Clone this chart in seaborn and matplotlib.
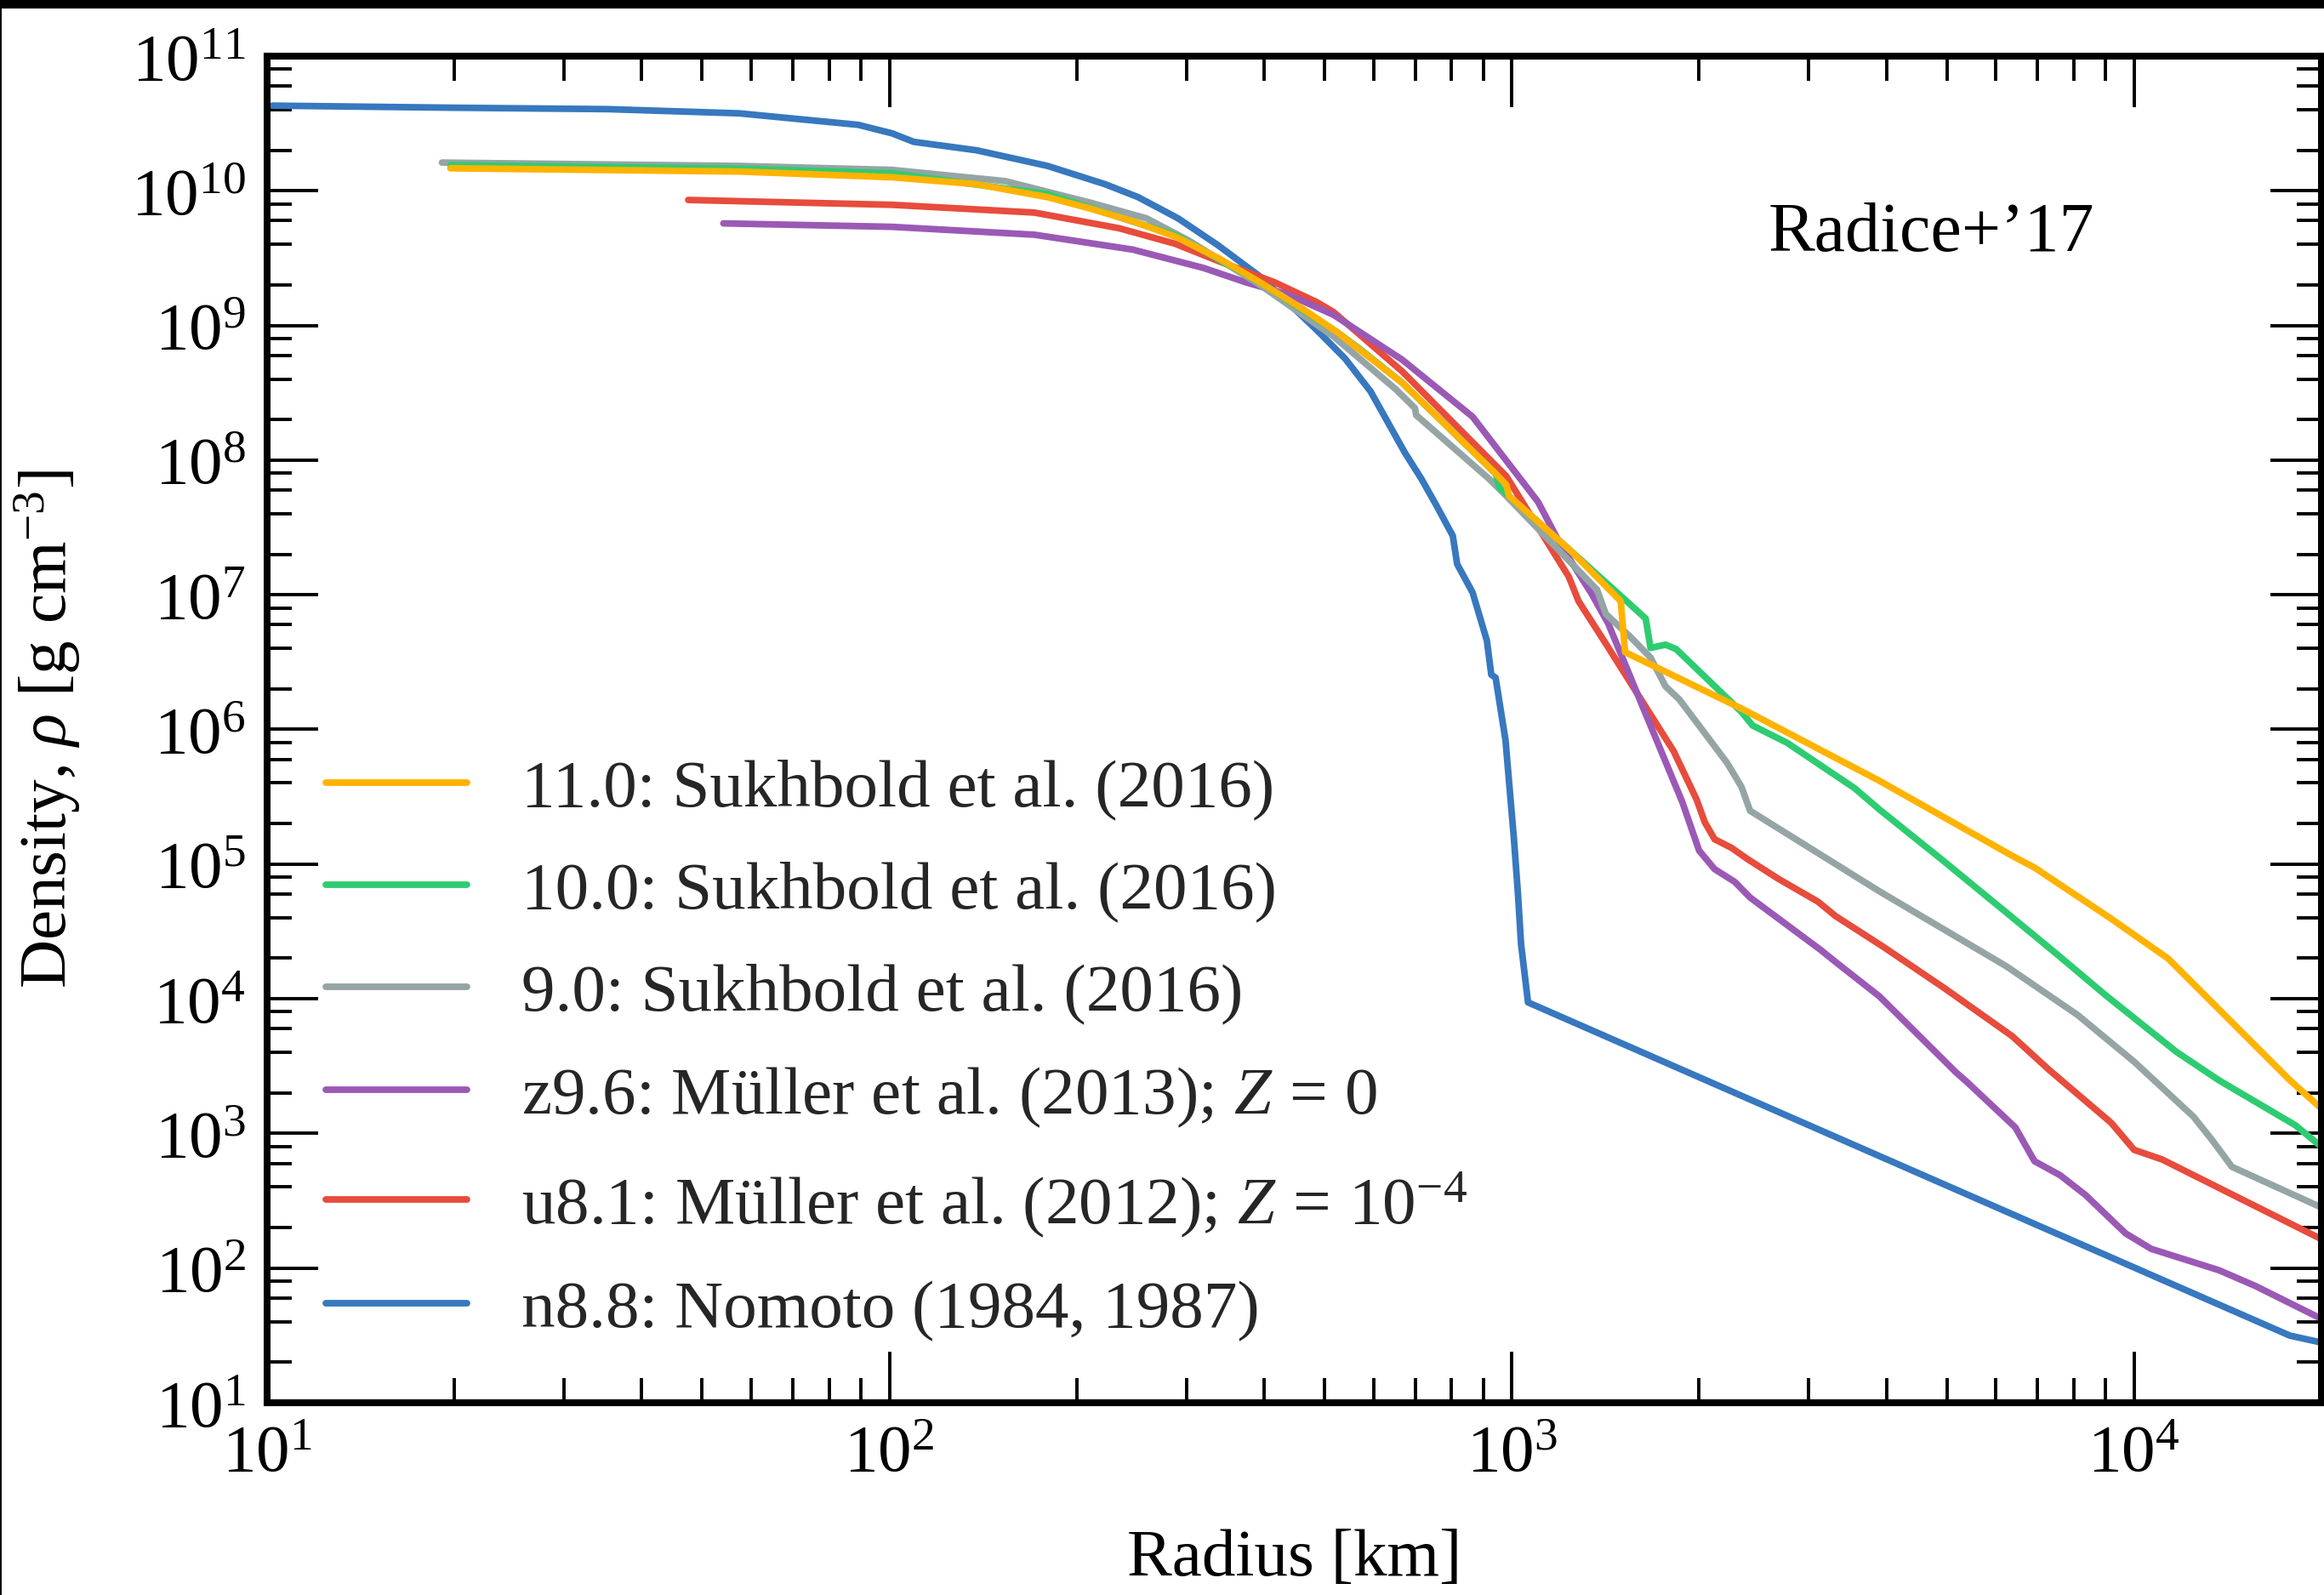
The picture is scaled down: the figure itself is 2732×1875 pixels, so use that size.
import numpy as np
import pandas as pd
import matplotlib
matplotlib.use("Agg")
import matplotlib.pyplot as plt
from matplotlib.lines import Line2D
from matplotlib.patches import Rectangle
from matplotlib.ticker import LogLocator, NullFormatter
import seaborn as sns

# ---------------- data (radius in km, density in g cm^-3) ----------------
n88_r = [10.2, 19.9, 35.3, 57.4, 89.1, 101, 109.4, 138, 179.5, 222, 251, 291, 337, 394,
         438, 486, 540, 593, 673, 716, 755, 804, 817, 865, 912, 927, 942, 977, 1008,
         1023, 1035, 1062, 17800, 20000]
n88_rho = [4.29e10, 4.14e10, 4.04e10, 3.76e10, 3.09e10, 2.67e10, 2.31e10, 2.00e10, 1.53e10,
           1.12e10, 8.97e9, 6.24e9, 3.95e9, 2.31e9, 1.46e9, 9.25e8, 5.66e8, 3.24e8, 1.14e8,
           7.24e7, 4.69e7, 2.74e7, 1.69e7, 1.04e7, 4.57e6, 2.55e6, 2.42e6, 8.34e5, 1.54e5,
           6.08e4, 2.54e4, 9.40e3, 31.5, 28.0]

u81_r = [47.5, 101, 171, 234, 288, 337, 416, 486, 517, 667, 980, 1235, 1280, 1416, 1820,
         1982, 2043, 2118, 2255, 2392, 2681, 3105, 3311, 3954, 4955, 6368, 7310, 9186,
         10000, 11090, 20000]
u81_rho = [8.55e9, 7.87e9, 6.89e9, 5.27e9, 4.04e9, 3.02e9, 2.09e9, 1.49e9, 1.26e9, 4.55e8,
           7.59e7, 1.36e7, 8.98e6, 4.34e6, 6.90e5, 3.01e5, 2.04e5, 1.53e5, 1.32e5, 1.09e5,
           7.78e4, 5.26e4, 4.12e4, 2.43e4, 1.20e4, 5.28e3, 2.95e3, 1.20e3, 755, 641, 164]

z96_r = [54.1, 101, 171, 246, 320, 374, 438, 517, 667, 865, 1102, 1197, 1343, 1429, 1607,
         1880, 2000, 2118, 2282, 2415, 3134, 3327, 3899, 5166, 5383, 6442, 6918, 7607,
         8360, 9690, 10650, 13690, 15670, 20000]
z96_rho = [5.73e9, 5.40e9, 4.72e9, 3.66e9, 2.67e9, 2.09e9, 1.69e9, 1.20e9, 5.56e8, 2.10e8,
           4.90e7, 2.37e7, 1.02e7, 6.11e6, 1.65e6, 2.88e5, 1.26e5, 9.18e4, 7.38e4, 5.65e4,
           2.31e4, 1.85e4, 1.04e4, 2.86e3, 2.42e3, 1.11e3, 622, 489, 348, 181, 139, 96.4,
           73.6, 42.0]

s90_r = [19.1, 57.4, 101, 153.5, 210, 259, 303, 394, 517, 652, 699, 702, 920, 980, 1371,
         1416, 1553, 1671, 1766, 1859, 2218, 2339, 2415, 3899, 6237, 8110, 10000, 12460,
         13340, 14360, 20000]
s90_rho = [1.62e10, 1.53e10, 1.43e10, 1.18e10, 8.18e9, 6.24e9, 4.26e9, 2.00e9, 8.30e8,
           3.34e8, 2.43e8, 2.16e8, 7.24e7, 5.42e7, 1.09e7, 7.21e6, 4.84e6, 3.42e6, 2.09e6,
           1.67e6, 5.65e5, 3.75e5, 2.49e5, 6.27e4, 1.74e4, 7.59e3, 3.41e3, 1.33e3, 895, 565,
           282]

s100_r = [19.7, 57.4, 101, 179.5, 288, 394, 523, 569, 667, 942, 955, 1247, 1476, 1641, 1671,
          1766, 1837, 2339, 2437, 2767, 3556, 3899, 4898, 6237, 7464, 9006, 11700, 13690,
          18160, 20000]
s100_rho = [1.55e10, 1.46e10, 1.35e10, 9.44e9, 4.68e9, 2.09e9, 8.98e8, 6.73e8, 3.75e8,
            7.94e7, 6.27e7, 2.10e7, 1.04e7, 6.67e6, 4.03e6, 4.26e6, 3.95e6, 1.35e6, 1.07e6,
            7.98e5, 3.66e5, 2.54e5, 1.09e5, 4.36e4, 2.20e4, 1.06e4, 4.03e3, 2.48e3, 1.15e3,
            796]

s110_r = [19.7, 57.4, 101, 138, 179.5, 210, 246, 288, 337, 394, 461, 523, 667, 942, 980,
          990, 1247, 1496, 1521, 2339, 3899, 6397, 6918, 9186, 11340, 17800, 20000]
s110_rho = [1.47e10, 1.39e10, 1.26e10, 1.12e10, 8.97e9, 7.39e9, 5.94e9, 4.57e9, 3.18e9,
            2.09e9, 1.33e9, 8.98e8, 3.75e8, 7.94e7, 6.55e7, 5.42e7, 2.10e7, 8.98e6, 3.75e6,
            1.43e6, 4.15e5, 1.14e5, 9.42e4, 3.93e4, 1.99e4, 2.48e3, 1.53e3]

labels = [
    "11.0: Sukhbold et al. (2016)",
    "10.0: Sukhbold et al. (2016)",
    "9.0: Sukhbold et al. (2016)",
    r"z9.6: Müller et al. (2013); $Z\, =\, 0$",
    r"u8.1: Müller et al. (2012); $Z\, =\, 10^{-4}$",
    "n8.8: Nomoto (1984, 1987)",
]
colors = ["#FFB300", "#2ECC71", "#95A5A6", "#9B59B6", "#E74C3C", "#3778BF"]
series = [(s110_r, s110_rho), (s100_r, s100_rho), (s90_r, s90_rho),
          (z96_r, z96_rho), (u81_r, u81_rho), (n88_r, n88_rho)]

# ---------------- style ----------------
sns.set_theme(style="ticks", context="notebook")
plt.rcParams["font.family"] = ["Liberation Serif", "DejaVu Serif"]
plt.rcParams["mathtext.fontset"] = "custom"
plt.rcParams["mathtext.rm"] = "Liberation Serif"
plt.rcParams["mathtext.it"] = "Liberation Serif:italic"
plt.rcParams["mathtext.bf"] = "Liberation Serif:bold"
plt.rcParams["axes.unicode_minus"] = True

FS = 28.5
LW = 2.8

fig = plt.figure(figsize=(13.66, 9.375), dpi=200)
ax = fig.add_axes([314 / 2732, 226 / 1875, 2415 / 2732, 1583 / 1875])

frames = []
for lab, (r, rho) in zip(labels, series):
    frames.append(pd.DataFrame({"r": r, "rho": rho, "model": lab}))
df = pd.concat(frames, ignore_index=True)

plot_order = labels[::-1]          # draw n8.8 first, 11.0 on top
palette = dict(zip(labels, colors))
sns.lineplot(data=df, x="r", y="rho", hue="model", hue_order=plot_order,
             palette=palette, estimator=None, sort=False, linewidth=LW,
             legend=False, ax=ax)

ax.set_xscale("log")
ax.set_yscale("log")
ax.set_xlim(10, 2.0e4)
ax.set_ylim(10, 1e11)

ax.xaxis.set_major_locator(LogLocator(base=10, numticks=20))
ax.xaxis.set_minor_locator(LogLocator(base=10, subs=np.arange(2, 10), numticks=50))
ax.yaxis.set_major_locator(LogLocator(base=10, numticks=20))
ax.yaxis.set_minor_locator(LogLocator(base=10, subs=[2, 4, 6, 8], numticks=50))
ax.xaxis.set_minor_formatter(NullFormatter())
ax.yaxis.set_minor_formatter(NullFormatter())

ax.tick_params(which="both", direction="in", top=True, right=True,
               colors="black", width=1.4, labelsize=FS)
ax.tick_params(which="major", length=21.5, pad=9)
ax.tick_params(which="minor", length=10.5)
for sp in ax.spines.values():
    sp.set_linewidth(2.9)
    sp.set_color("black")

ax.set_xlabel("Radius [km]", fontsize=FS, color="black")
ax.set_ylabel(r"Density, $\rho$ [g cm$^{-3}$]", fontsize=FS, color="black")
ax.xaxis.set_label_coords(0.5, -0.094)
ax.yaxis.set_label_coords(-0.090, 0.5)

ax.text(0.810, 0.868, "Radice+\u201917", transform=ax.transAxes, fontsize=FS + 1,
        ha="center", va="center", color="black")

handles = [Line2D([0], [0], color=c, lw=LW) for c in colors]
ax.legend(handles, labels, loc="upper left", bbox_to_anchor=(0.0286, 0.478),
          frameon=False, fontsize=FS, handlelength=2.1, handletextpad=0.80,
          labelspacing=0.60, borderpad=0, borderaxespad=0)

# dark frame edges seen in the reference image
fig.add_artist(Rectangle((0, 1 - 10 / 1875), 1, 10 / 1875, transform=fig.transFigure,
                         color="black", lw=0, zorder=10))
fig.add_artist(Rectangle((0, 0), 2 / 2732, 1, transform=fig.transFigure,
                         color="black", lw=0, zorder=10))

fig.savefig("out.png", dpi=200)
